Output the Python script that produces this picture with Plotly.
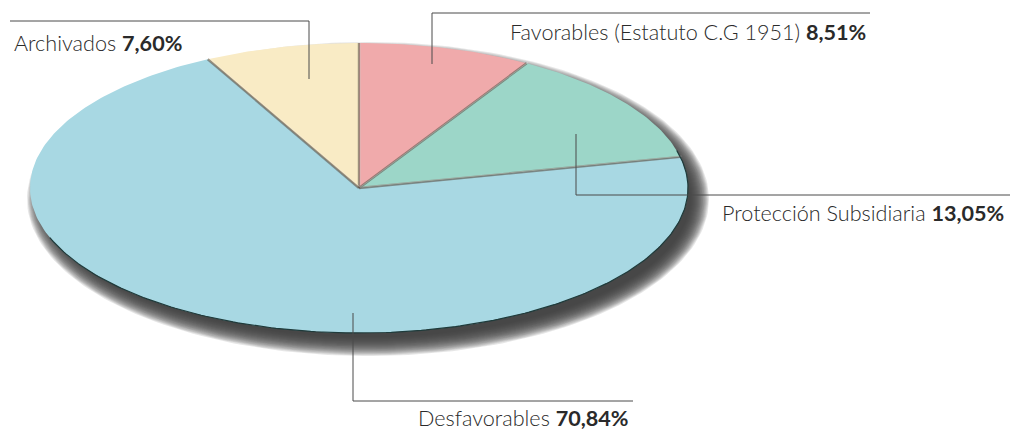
import numpy as np
import plotly.graph_objects as go

# ---- data ----
categories = ["Favorables (Estatuto C.G 1951)", "Protección Subsidiaria", "Desfavorables", "Archivados"]
values = [8.51, 13.05, 70.84, 7.60]
colors = ["#f0aaab", "#9cd6c8", "#a8d8e3", "#f9ebc5"]

# ---- layout / style constants ----
W, H = 1018, 431
CX, CY, RA, RB = 359, 188, 329, 145
FONT = "Lato"

def pt(t, dx=0, dy=0, ga=0, gb=0):
    return (CX + dx + (RA + ga) * np.sin(t), CY + dy - (RB + gb) * np.cos(t))

fig = go.Figure()

# shadow (blurred by stacking)
tt = np.linspace(0, 2 * np.pi, 240)
for i in range(20):
    g = -7 + 1.0 * i
    x, y = pt(tt, dx=9, dy=11, ga=g, gb=g)
    fig.add_trace(go.Scatter(x=x, y=y, mode="lines", fill="toself",
                             fillcolor="rgba(60,60,60,0.13)", line=dict(width=0),
                             hoverinfo="skip", showlegend=False))

# slices
total = sum(values)
start = 0.0
bounds = []
for cat, v, c in zip(categories, values, colors):
    t0 = start / total * 2 * np.pi
    t1 = (start + v) / total * 2 * np.pi
    ts = np.linspace(t0, t1, max(8, int(v * 4)))
    xs, ys = pt(ts)
    xs = np.concatenate([[CX], xs, [CX]])
    ys = np.concatenate([[CY], ys, [CY]])
    fig.add_trace(go.Scatter(x=xs, y=ys, mode="lines", fill="toself", fillcolor=c,
                             line=dict(width=0), name=cat, hoverinfo="name",
                             showlegend=False))
    bounds.append(t0)
    start += v

# separators (bevel shadows)
for t in bounds:
    ex, ey = pt(t)
    fig.add_trace(go.Scatter(x=[CX, ex], y=[CY, ey], mode="lines",
                             line=dict(color="rgba(95,85,75,0.6)", width=2.4),
                             hoverinfo="skip", showlegend=False))
    fig.add_trace(go.Scatter(x=[CX + 1.2, ex + 1.2], y=[CY - 0.8, ey - 0.8], mode="lines",
                             line=dict(color="rgba(255,255,255,0.35)", width=0.8),
                             hoverinfo="skip", showlegend=False))

# dark outer rim on lower-right edge
tr = np.linspace(np.radians(75), np.radians(250), 200)
x, y = pt(tr)
fig.add_trace(go.Scatter(x=x, y=y, mode="lines", line=dict(color="#1f3b3b", width=1.2),
                         hoverinfo="skip", showlegend=False))

# leader lines and labels (layout)
leaders = [
    dict(path=[(432, 64), (432, 13), (870, 13)], lx=868, ly=32, anchor="right"),
    dict(path=[(576, 134), (576, 195), (1010, 195)], lx=1006, ly=213, anchor="right"),
    dict(path=[(353, 313), (353, 401), (633, 401)], lx=631, ly=418, anchor="right"),
    dict(path=[(309, 79), (309, 21), (10, 21)], lx=12, ly=43, anchor="left"),
]
shapes = []
annotations = []
for cat, v, L in zip(categories, values, leaders):
    p = L["path"]
    d = "M {} {} ".format(*p[0]) + " ".join("L {} {}".format(*q) for q in p[1:])
    shapes.append(dict(type="path", path=d, xref="x", yref="y",
                       line=dict(color="#4a4a4a", width=1)))
    txt = "{} <b>{}%</b>".format(cat, ("%.2f" % v).replace(".", ","))
    annotations.append(dict(x=L["lx"], y=L["ly"], xref="x", yref="y", text=txt,
                            showarrow=False, xanchor=L["anchor"], yanchor="middle",
                            font=dict(family=FONT, size=21.6, color="#2a2a2a", weight=300)))

fig.update_layout(
    width=W, height=H, margin=dict(l=0, r=0, t=0, b=0),
    paper_bgcolor="white", plot_bgcolor="white",
    xaxis=dict(range=[0, W], visible=False, fixedrange=True),
    yaxis=dict(range=[H, 0], visible=False, fixedrange=True),
    shapes=shapes, annotations=annotations, showlegend=False,
)
fig.write_html("out.html", config={"displayModeBar": False},
               post_script="document.body.style.margin='0';document.body.style.overflow='hidden';")
